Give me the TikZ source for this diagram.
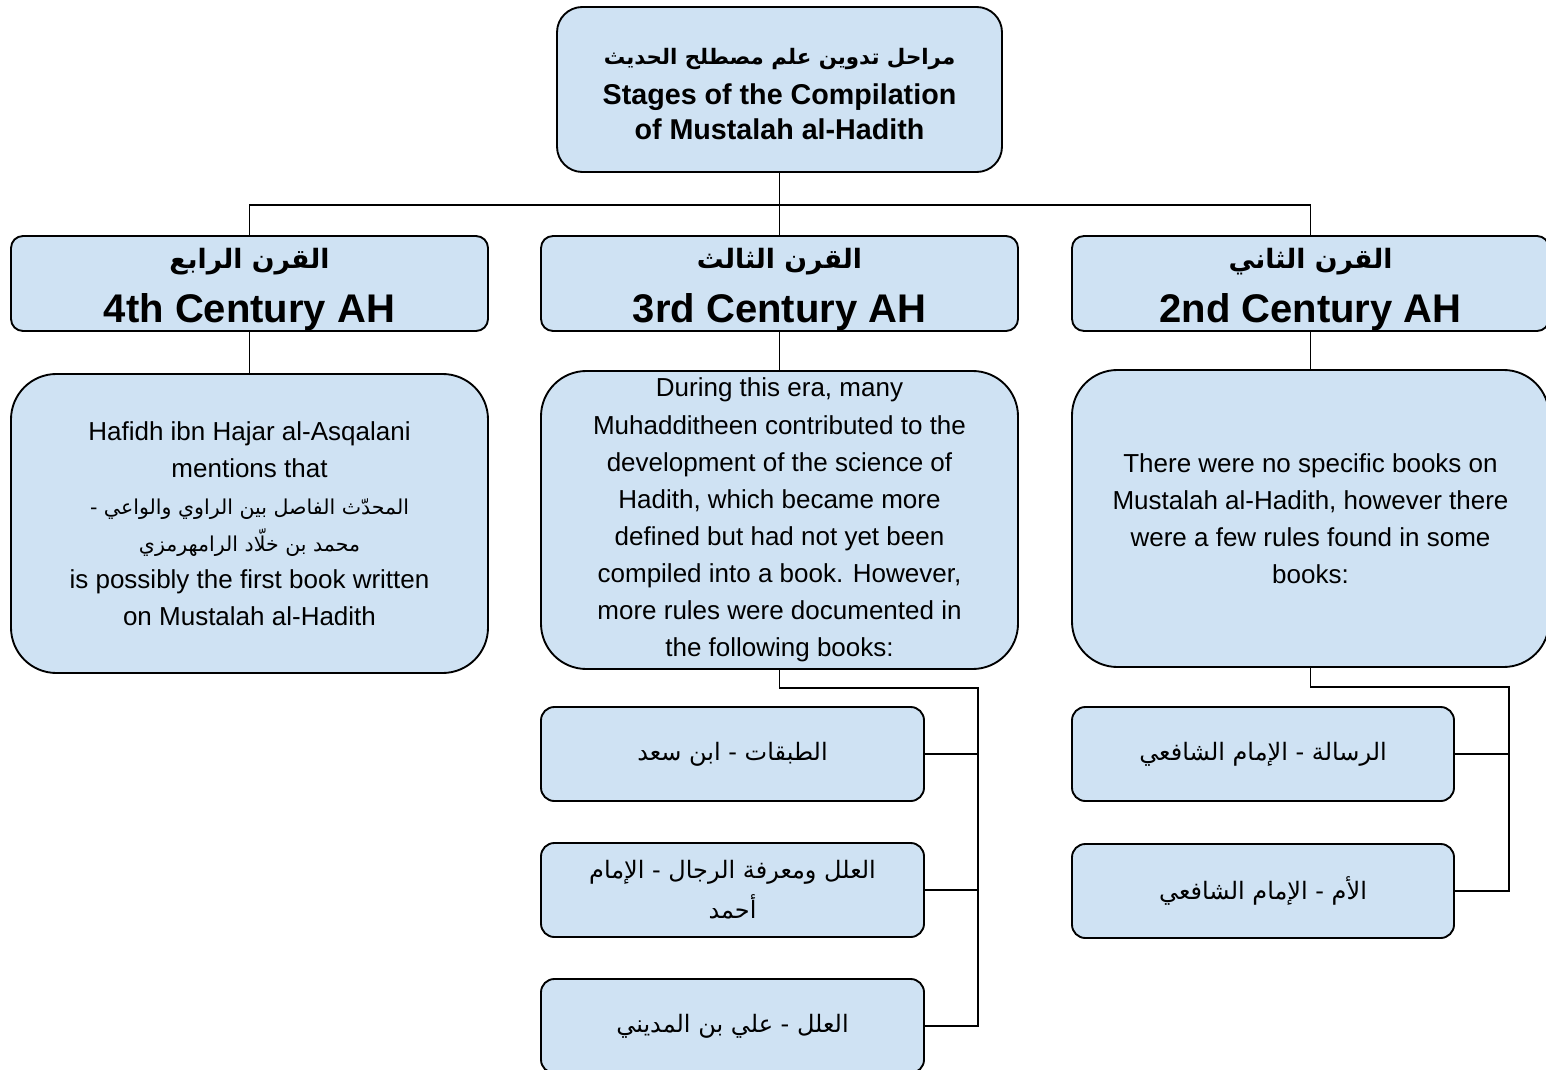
\documentclass[tikz,border=0pt]{standalone}
\usepackage{fontspec}
\setmainfont{Liberation Sans}
\newfontfamily\arabicfont[Script=Arabic]{DejaVu Sans}
\TeXXeTstate=1
\definecolor{boxfill}{HTML}{CFE2F3}
\newcommand{\AR}[1]{{\arabicfont\beginR #1\endR}}
\def\pxu{0.75pt}
\tikzset{
  box/.style={draw=black, line width=1.4pt, fill=boxfill, inner sep=0pt, align=center},
  titlebox/.style={box, rounded corners=19pt, minimum width=445*\pxu, minimum height=165*\pxu,
    font=\bfseries\fontsize{21.5}{26.5}\selectfont},
  centbox/.style={box, rounded corners=9pt, minimum width=477*\pxu, minimum height=95*\pxu,
    font=\bfseries\fontsize{30}{41}\selectfont},
  bodybox/.style={box, rounded corners=34pt, minimum width=477*\pxu,
    font=\fontsize{19.5}{27.8}\selectfont},
  bookbox/.style={box, rounded corners=10pt, minimum width=383*\pxu, minimum height=94*\pxu,
    font=\fontsize{18}{30}\selectfont},
  link/.style={draw=black, line width=1.4pt},
}
\begin{document}
\begin{tikzpicture}[x=0.75pt,y=-0.75pt]
\useasboundingbox (0,0) rectangle (1546,1070);

% title
\node[titlebox] (T) at (779.5,89.5)
  {\rule{0pt}{19pt}\AR{\fontsize{16}{26}\selectfont مراحل تدوين علم مصطلح الحديث}\\[3pt]Stages of the Compilation\\of Mustalah al-Hadith};

% century boxes
\node[centbox] (C4) at (249.5,283.5) {\rule{0pt}{24pt}\AR{\fontsize{20}{24}\selectfont القرن الرابع}\\4th Century AH};
\node[centbox] (C3) at (779.5,283.5) {\rule{0pt}{24pt}\AR{\fontsize{20}{24}\selectfont القرن الثالث}\\3rd Century AH};
\node[centbox] (C2) at (1310.5,283.5) {\rule{0pt}{24pt}\AR{\fontsize{20}{24}\selectfont القرن الثاني}\\2nd Century AH};

% bodies
\node[bodybox, minimum height=299*\pxu] (B4) at (249.5,523.5)
  {Hafidh ibn Hajar al-Asqalani\\mentions that\\
   \AR{\fontsize{15.4}{20}\selectfont المحدّث الفاصل بين الراوي والواعي -}\\
   \AR{\fontsize{15.4}{20}\selectfont محمد بن خلّاد الرامهرمزي}\\
   is possibly the first book written\\on Mustalah al-Hadith};
\node[bodybox, minimum height=298*\pxu] (B3) at (779.5,520)
  {During this era, many\\Muhadditheen contributed to the\\development of the science of\\Hadith, which became more\\defined but had not yet been\\compiled into a book. However,\\more rules were documented in\\the following books:};
\node[bodybox, minimum height=297*\pxu] (B2) at (1310.5,518.5)
  {There were no specific books on\\Mustalah al-Hadith, however there\\were a few rules found in some\\books:};

% books of 3rd century
\node[bookbox] (K3a) at (732.5,754) {\AR{الطبقات - ابن سعد}};
\node[bookbox] (K3b) at (732.5,890) {\AR{العلل ومعرفة الرجال - الإمام}\\\AR{أحمد}};
\node[bookbox] (K3c) at (732.5,1026) {\AR{العلل - علي بن المديني}};

% books of 2nd century
\node[bookbox, minimum width=382*\pxu] (K2a) at (1263,754) {\AR{الرسالة - الإمام الشافعي}};
\node[bookbox, minimum width=382*\pxu] (K2b) at (1263,891) {\AR{الأم - الإمام الشافعي}};

% connectors
\coordinate (bus) at (779.5,205);
\draw[link] (T.south) -- (C3.north);
\draw[link] (C4.north) -- (C4.north |- bus) -- (C2.north |- bus) -- (C2.north);
\draw[link] (C4.south) -- (B4.north);
\draw[link] (C3.south) -- (B3.north);
\draw[link] (C2.south) -- (B2.north);

\coordinate (r3) at (978,688);
\draw[link] (B3.south) |- (r3) |- (K3c.east);
\draw[link] (K3a.east) -- (K3a.east -| r3);
\draw[link] (K3b.east) -- (K3b.east -| r3);

\coordinate (r2) at (1509,687);
\draw[link] (B2.south) |- (r2) |- (K2b.east);
\draw[link] (K2a.east) -- (K2a.east -| r2);
\end{tikzpicture}
\end{document}
